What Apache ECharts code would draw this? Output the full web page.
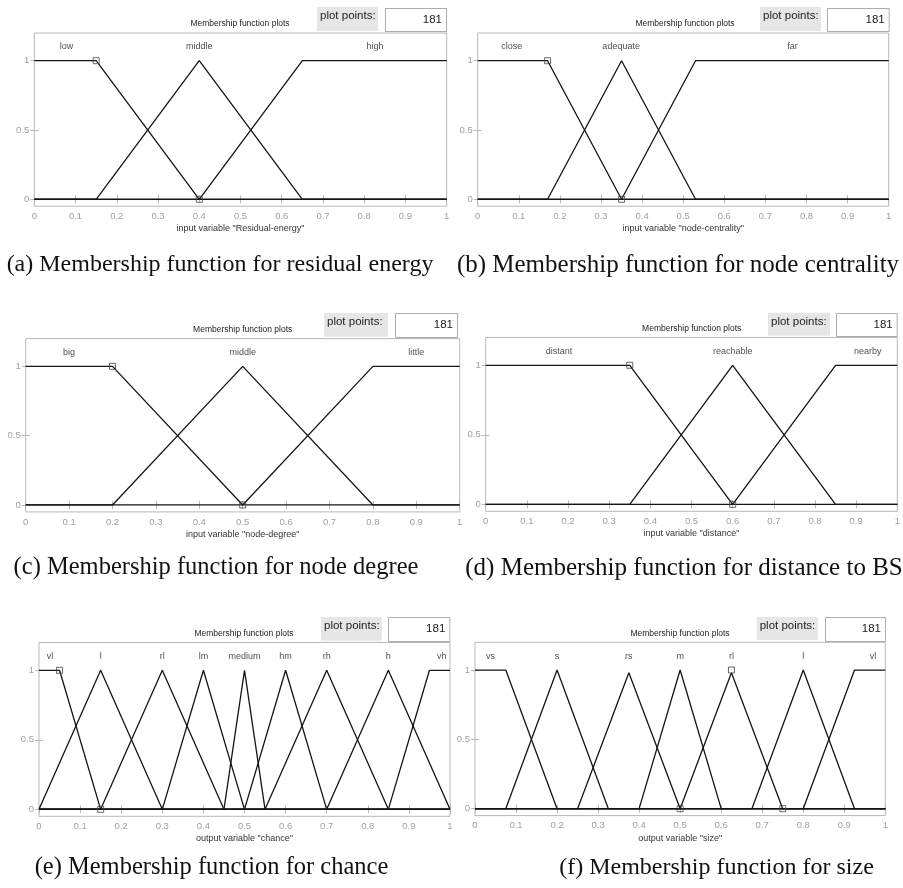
<!DOCTYPE html>
<html><head><meta charset="utf-8">
<script src="https://cdn.jsdelivr.net/npm/echarts@6/dist/echarts.min.js"></script>
<style>html,body{margin:0;padding:0;background:#fff}#c{width:903px;height:888px}</style>
</head><body><div id="c"></div>
<script>
// ---------------- data ----------------
const yTickValues = [0, 0.5, 1];
const plotPointsLabel = 'plot points:';
const plotPoints = '181';
const panelTitle = 'Membership function plots';

const aNames = ['low', 'middle', 'high'];
const aLow = [[0, 1], [0.15, 1], [0.4, 0], [1, 0]];
const aMiddle = [[0, 0], [0.15, 0], [0.4, 1], [0.65, 0], [1, 0]];
const aHigh = [[0, 0], [0.4, 0], [0.65, 1], [1, 1]];
const aLabelX = [0.078, 0.4, 0.826];
const aMarkers = [[0.15, 1], [0.4, 0]];
const aAxisName = 'input variable "Residual-energy"';
const aCaption = '(a) Membership function for residual energy';

const bNames = ['close', 'adequate', 'far'];
const bClose = [[0, 1], [0.17, 1], [0.35, 0], [1, 0]];
const bAdequate = [[0, 0], [0.17, 0], [0.35, 1], [0.53, 0], [1, 0]];
const bFar = [[0, 0], [0.35, 0], [0.53, 1], [1, 1]];
const bLabelX = [0.083, 0.349, 0.766];
const bMarkers = [[0.17, 1], [0.35, 0]];
const bAxisName = 'input variable "node-centrality"';
const bCaption = '(b) Membership function for node centrality';

const cNames = ['big', 'middle', 'little'];
const cBig = [[0, 1], [0.2, 1], [0.5, 0], [1, 0]];
const cMiddle = [[0, 0], [0.2, 0], [0.5, 1], [0.8, 0], [1, 0]];
const cLittle = [[0, 0], [0.5, 0], [0.8, 1], [1, 1]];
const cLabelX = [0.1, 0.5, 0.9];
const cMarkers = [[0.2, 1], [0.5, 0]];
const cAxisName = 'input variable "node-degree"';
const cCaption = '(c) Membership function for node degree';

const dNames = ['distant', 'reachable', 'nearby'];
const dDistant = [[0, 1], [0.35, 1], [0.6, 0], [1, 0]];
const dReachable = [[0, 0], [0.35, 0], [0.6, 1], [0.85, 0], [1, 0]];
const dNearby = [[0, 0], [0.6, 0], [0.85, 1], [1, 1]];
const dLabelX = [0.178, 0.6, 0.928];
const dMarkers = [[0.35, 1], [0.6, 0]];
const dAxisName = 'input variable "distance"';
const dCaption = '(d) Membership function for distance to BS';

const eNames = ['vl', 'l', 'rl', 'lm', 'medium', 'hm', 'rh', 'h', 'vh'];
const eVl = [[0, 1], [0.05, 1], [0.15, 0], [1, 0]];
const eL = [[0, 0], [0.15, 1], [0.3, 0], [1, 0]];
const eRl = [[0, 0], [0.15, 0], [0.3, 1], [0.45, 0], [1, 0]];
const eLm = [[0, 0], [0.3, 0], [0.4, 1], [0.5, 0], [1, 0]];
const eMedium = [[0, 0], [0.45, 0], [0.5, 1], [0.55, 0], [1, 0]];
const eHm = [[0, 0], [0.5, 0], [0.6, 1], [0.7, 0], [1, 0]];
const eRh = [[0, 0], [0.55, 0], [0.7, 1], [0.85, 0], [1, 0]];
const eH = [[0, 0], [0.7, 0], [0.85, 1], [1, 0]];
const eVh = [[0, 0], [0.85, 0], [0.95, 1], [1, 1]];
const eLabelX = [0.027, 0.15, 0.3, 0.4, 0.5, 0.6, 0.7, 0.85, 0.98];
const eMarkers = [[0.05, 1], [0.15, 0]];
const eAxisName = 'output variable "chance"';
const eCaption = '(e) Membership function for chance';

const fNames = ['vs', 's', 'rs', 'm', 'rl', 'l', 'vl'];
const fVs = [[0, 1], [0.075, 1], [0.2, 0], [1, 0]];
const fS = [[0, 0], [0.075, 0], [0.2, 1], [0.325, 0], [1, 0]];
const fRs = [[0, 0], [0.25, 0], [0.375, 0.98], [0.5, 0], [1, 0]];
const fM = [[0, 0], [0.4, 0], [0.5, 1], [0.6, 0], [1, 0]];
const fRl = [[0, 0], [0.5, 0], [0.625, 0.98], [0.75, 0], [1, 0]];
const fL = [[0, 0], [0.675, 0], [0.8, 1], [0.925, 0], [1, 0]];
const fVl = [[0, 0], [0.8, 0], [0.925, 1], [1, 1]];
const fLabelX = [0.038, 0.2, 0.375, 0.5, 0.625, 0.8, 0.97];
const fMarkers = [[0.625, 1], [0.5, 0], [0.75, 0]];
const fAxisName = 'output variable "size"';
const fCaption = '(f) Membership function for size';

const panels = [
  { names: aNames, mfs: [aLow, aMiddle, aHigh], labelX: aLabelX, markers: aMarkers, axisName: aAxisName, caption: aCaption },
  { names: bNames, mfs: [bClose, bAdequate, bFar], labelX: bLabelX, markers: bMarkers, axisName: bAxisName, caption: bCaption },
  { names: cNames, mfs: [cBig, cMiddle, cLittle], labelX: cLabelX, markers: cMarkers, axisName: cAxisName, caption: cCaption },
  { names: dNames, mfs: [dDistant, dReachable, dNearby], labelX: dLabelX, markers: dMarkers, axisName: dAxisName, caption: dCaption },
  { names: eNames, mfs: [eVl, eL, eRl, eLm, eMedium, eHm, eRh, eH, eVh], labelX: eLabelX, markers: eMarkers, axisName: eAxisName, caption: eCaption },
  { names: fNames, mfs: [fVs, fS, fRs, fM, fRl, fL, fVl], labelX: fLabelX, markers: fMarkers, axisName: fAxisName, caption: fCaption }
];

// ---------------- layout (pixels) ----------------
const layout = [
  { left: 34.3, top: 33.0, width: 412.4, height: 173.2, titleX: 240, titleY: 24, grey: [317, 7, 61, 24], white: [385, 8, 61, 23], capX: 220, capY: 265, capSize: 24 },
  { left: 477.7, top: 33.0, width: 411.0, height: 173.2, titleX: 685, titleY: 24, grey: [760, 7, 61, 24], white: [827, 8, 61.7, 23], capX: 678, capY: 265, capSize: 25 },
  { left: 25.7, top: 338.6, width: 434.0, height: 173.3, titleX: 242.7, titleY: 329.3, grey: [324, 313, 64, 23.7], white: [395, 313, 62, 24], capX: 216, capY: 568, capSize: 24.5 },
  { left: 485.7, top: 337.5, width: 411.6, height: 173.8, titleX: 691.7, titleY: 328.3, grey: [768, 312.7, 62, 23], white: [836, 313, 60.7, 23], capX: 684, capY: 568, capSize: 25 },
  { left: 39.0, top: 642.5, width: 411.0, height: 173.8, titleX: 244, titleY: 633.3, grey: [321, 617, 60.7, 23.7], white: [388, 617, 61.3, 24], capX: 211.5, capY: 868, capSize: 24.5 },
  { left: 475.0, top: 642.3, width: 410.3, height: 173.3, titleX: 680, titleY: 633.3, grey: [756.7, 617, 61, 23], white: [825, 617, 60, 24], capX: 716.5, capY: 868, capSize: 24 }
];

const SANS = '"Liberation Sans", Arial, sans-serif';
const SERIF = '"Liberation Serif", "Times New Roman", serif';
const grids = [], xAxes = [], yAxes = [], series = [], graphics = [];

panels.forEach((p, i) => {
  const L = layout[i];
  grids.push({ left: L.left, top: L.top, width: L.width, height: L.height, show: true, borderColor: '#b8b8b8', borderWidth: 1, backgroundColor: '#fff', containLabel: false, outerBoundsMode: 'none' });
  const xCommon = { type: 'value', gridIndex: i, min: 0, max: 1, interval: 0.1, splitLine: { show: false }, axisLine: { show: false },
    axisTick: { show: true, inside: true, length: 4, lineStyle: { color: '#b8b8b8' } } };
  xAxes.push(Object.assign({}, xCommon, { position: 'bottom', name: p.axisName, nameLocation: 'middle', nameGap: 18,
    nameTextStyle: { fontFamily: SANS, fontSize: 9, color: '#333' },
    axisLabel: { show: true, margin: 5, fontFamily: SANS, fontSize: 9.5, color: '#a0a0a0' } }));
  xAxes.push(Object.assign({}, xCommon, { position: 'top', axisLabel: { show: false } }));
  const yCommon = { type: 'value', gridIndex: i, min: -0.05, max: 1.2, splitLine: { show: false }, axisLine: { show: false },
    axisTick: { show: true, inside: true, length: 4, lineStyle: { color: '#b8b8b8' }, customValues: yTickValues } };
  yAxes.push(Object.assign({}, yCommon, { position: 'left',
    axisLabel: { show: true, margin: 5, fontFamily: SANS, fontSize: 9.5, color: '#a0a0a0', customValues: yTickValues } }));
  yAxes.push(Object.assign({}, yCommon, { position: 'right', axisLabel: { show: false } }));

  p.mfs.forEach((mf, k) => {
    series.push({ type: 'line', name: p.names[k], xAxisIndex: 2 * i, yAxisIndex: 2 * i, data: mf, symbol: 'none',
      lineStyle: { color: '#141414', width: 1.3 }, z: 3, silent: true });
  });
  series.push({ type: 'scatter', xAxisIndex: 2 * i, yAxisIndex: 2 * i, data: p.markers, symbol: 'rect', symbolSize: 6,
    itemStyle: { color: 'rgba(255,255,255,0)', borderColor: '#444', borderWidth: 1 }, z: 4, silent: true });
  series.push({ type: 'scatter', xAxisIndex: 2 * i, yAxisIndex: 2 * i,
    data: p.names.map((n, k) => [p.labelX[k], 1.1, n]), symbolSize: 1, itemStyle: { color: 'rgba(0,0,0,0)' },
    label: { show: true, position: 'inside', formatter: d => d.value[2], fontFamily: SANS, fontSize: 9, color: '#222' }, z: 5, silent: true });

  graphics.push({ type: 'text', x: L.titleX, y: L.titleY, style: { text: panelTitle, font: '8.5px ' + SANS, fill: '#222', textAlign: 'center', textVerticalAlign: 'middle' } });
  graphics.push({ type: 'rect', shape: { x: L.grey[0], y: L.grey[1], width: L.grey[2], height: L.grey[3] }, style: { fill: '#e6e6e6' } });
  graphics.push({ type: 'text', x: L.grey[0] + 3, y: L.grey[1] + 9, style: { text: plotPointsLabel, font: '11.5px ' + SANS, fill: '#222', textAlign: 'left', textVerticalAlign: 'middle' } });
  graphics.push({ type: 'rect', shape: { x: L.white[0] + 0.5, y: L.white[1] + 0.5, width: L.white[2], height: L.white[3] }, style: { fill: '#fff', stroke: '#adadad', lineWidth: 1 } });
  graphics.push({ type: 'text', x: L.white[0] + L.white[2] - 4, y: L.white[1] + 11.5, style: { text: plotPoints, font: '11.5px ' + SANS, fill: '#222', textAlign: 'right', textVerticalAlign: 'middle' } });
  graphics.push({ type: 'text', x: L.capX, y: L.capY, style: { text: p.caption, font: L.capSize + 'px ' + SERIF, fill: '#111', textAlign: 'center', textVerticalAlign: 'middle' } });
});

const chart = echarts.init(document.getElementById('c'), null, { renderer: 'canvas' });
chart.setOption({
  animation: false,
  backgroundColor: '#fff',
  grid: grids,
  xAxis: xAxes,
  yAxis: yAxes,
  series: series,
  graphic: graphics
});
</script></body></html>
